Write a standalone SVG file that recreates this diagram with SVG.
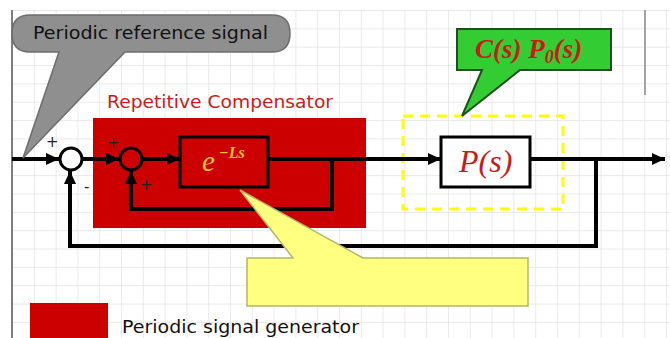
<svg xmlns="http://www.w3.org/2000/svg" width="670" height="338" viewBox="0 0 670 338">
<defs>
<pattern id="grid" x="12" y="10" width="21.8" height="18.35" patternUnits="userSpaceOnUse">
<path d="M0,0 V18.35 M0,0 H21.8" fill="none" stroke="#e2e2e2" stroke-width="1.4"/>
</pattern>
<marker id="arr" markerUnits="userSpaceOnUse" markerWidth="14" markerHeight="12" refX="13" refY="6" orient="auto">
<path d="M0,0 L13,6 L0,12 Z" fill="#000"/>
</marker>
<style>
.wire{fill:none;stroke:#000;stroke-width:4;stroke-linejoin:miter}
.sum{stroke:#000;stroke-width:3}
.sans{font-family:"DejaVu Sans",Verdana,sans-serif}
.serif{font-family:"Liberation Serif","Times New Roman",serif}
.sign{font-family:"DejaVu Sans",sans-serif;font-size:15px;fill:#222}
</style>
</defs>
<rect width="670" height="338" fill="#fff"/>
<rect x="12" y="10" width="658" height="328" fill="url(#grid)"/>
<line x1="12" y1="10" x2="12" y2="338" stroke="#555" stroke-width="1.5"/>
<line x1="645" y1="10" x2="645" y2="95" stroke="#888" stroke-width="1.5"/>

<g id="repetitive-compensator">
<rect x="93" y="118" width="273" height="110" fill="#cc0000"/>
<text x="107" y="108" class="sans" font-size="18.5" fill="#cc1a1a" textLength="226" lengthAdjust="spacingAndGlyphs">Repetitive Compensator</text>
</g>

<g id="delay-block">
<rect x="180" y="137" width="88" height="50" fill="#cc0000" stroke="#000" stroke-width="3"/>
<text x="202" y="171" class="serif" font-style="italic" font-size="29" fill="#ffc22e">e</text>
<text x="219" y="158" class="serif" font-style="italic" font-weight="bold" font-size="16" fill="#ffc22e">−Ls</text>
</g>

<g id="plant-group">
<rect x="403" y="116" width="160" height="93" fill="none" stroke="#ffff00" stroke-width="3" stroke-dasharray="10 7"/>
</g>

<g id="plant">
<rect x="441" y="137" width="89" height="50" fill="#fff" stroke="#000" stroke-width="3"/>
<text x="459" y="172" class="serif" font-style="italic" font-size="32" fill="#cc1a1a">P(s)</text>
</g>

<g id="connectors">
<path class="wire" d="M12,159 H59" marker-end="url(#arr)"/>
<path class="wire" d="M82,159 H119" marker-end="url(#arr)"/>
<path class="wire" d="M142,159 H180" marker-end="url(#arr)"/>
<path class="wire" d="M268,159 H441" marker-end="url(#arr)"/>
<path class="wire" d="M332,159 V209 H131 V171" marker-end="url(#arr)"/>
<path class="wire" d="M530,159 H665" marker-end="url(#arr)"/>
<path class="wire" d="M596,159 V246 H70 V171" marker-end="url(#arr)"/>
</g>

<g id="sum1">
<circle cx="71" cy="159" r="11" fill="#fff" class="sum"/>
<text x="46" y="147" class="sign">+</text>
<text x="84" y="192" class="sign">-</text>
</g>

<g id="sum2">
<circle cx="131" cy="159" r="11" fill="none" class="sum"/>
<text x="107" y="148" class="sign">+</text>
<text x="140" y="190" class="sign">+</text>
</g>

<g id="callout-reference">
<path d="M30,15 H272 Q290,15 290,33.5 Q290,52 272,52 H125 L23,158 L59,52 H30 Q12,52 12,33.5 Q12,15 30,15 Z" fill="#8f8f8f" stroke="#6d6d6d" stroke-width="1.5"/>
<text x="33" y="39" class="sans" font-size="18.5" fill="#111" textLength="235" lengthAdjust="spacingAndGlyphs">Periodic reference signal</text>
</g>

<g id="callout-controller">
<path d="M457,29 H611 V70 H520 L462,116 L482,70 H457 Z" fill="#33cc33" stroke="#1f4f1f" stroke-width="2"/>
<text x="475" y="58" class="serif" font-style="italic" font-weight="bold" font-size="27" fill="#cc1a1a">C(s) P<tspan font-size="18" dy="5">0</tspan><tspan dy="-5">(s)</tspan></text>
</g>

<g id="callout-generator">
<path d="M247,258 H293 L240,190 L363,258 H528 V306 H247 Z" fill="#ffff80" stroke="#b5b56a" stroke-width="1.5"/>
</g>

<g id="legend">
<rect x="30" y="303" width="78" height="35" fill="#cc0000"/>
<text x="122" y="333" class="sans" font-size="18.5" fill="#111" textLength="237" lengthAdjust="spacingAndGlyphs">Periodic signal generator</text>
</g>
</svg>
